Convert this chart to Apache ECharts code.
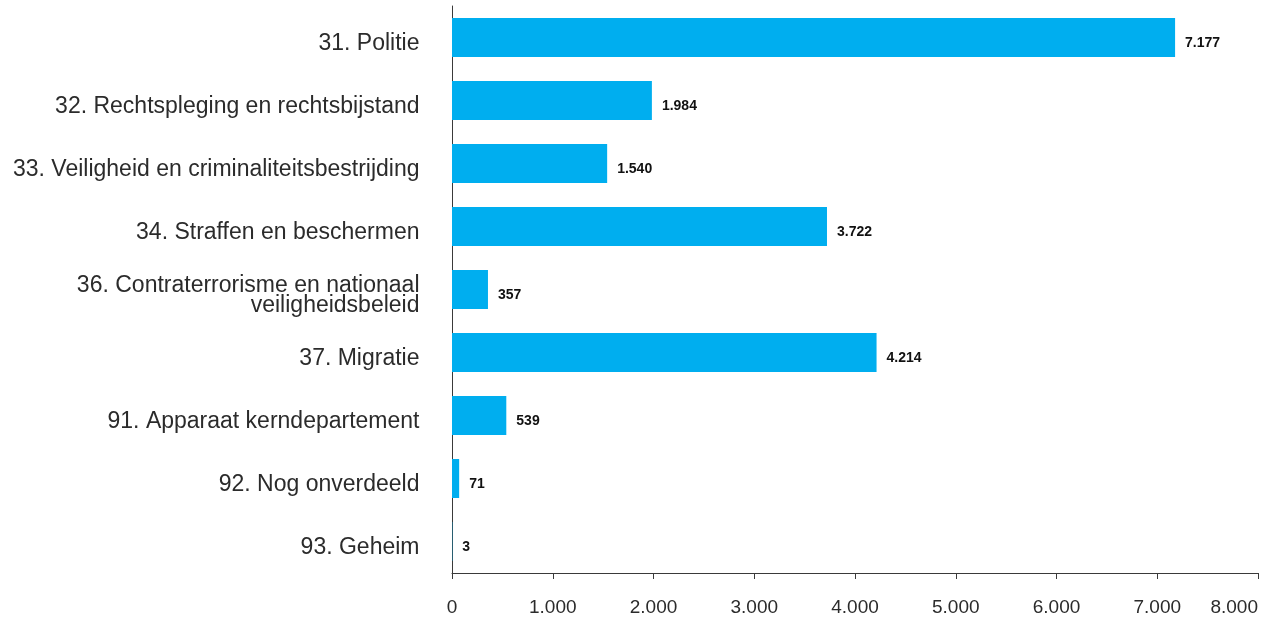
<!DOCTYPE html>
<html>
<head>
<meta charset="utf-8">
<script src="https://cdn.jsdelivr.net/npm/echarts@6/dist/echarts.min.js"></script>
<style>
  html, body { margin: 0; padding: 0; background: #ffffff; }
  #chart { width: 1277px; height: 619px; }
</style>
</head>
<body>
<div id="chart"></div>
<script>
// begrotingsartikelen (van boven naar beneden)
const categories = [
  "31. Politie",
  "32. Rechtspleging en rechtsbijstand",
  "33. Veiligheid en criminaliteitsbestrijding",
  "34. Straffen en beschermen",
  "36. Contraterrorisme en nationaal\nveiligheidsbeleid",
  "37. Migratie",
  "91. Apparaat kerndepartement",
  "92. Nog onverdeeld",
  "93. Geheim"
];
const values = [7177, 1984, 1540, 3722, 357, 4214, 539, 71, 3];
const xTicks = { min: 0, max: 8000, interval: 1000 };

// duizendtallen met een punt
function nl(v) {
  return String(v).replace(/\B(?=(\d{3})+(?!\d))/g, ".");
}

const chart = echarts.init(document.getElementById("chart"));
chart.setOption({
  animation: false,
  textStyle: { fontFamily: "Liberation Sans, Arial, sans-serif" },
  grid: { left: 452, right: 19, top: 6, bottom: 46, outerBoundsMode: "none" },
  xAxis: {
    type: "value",
    min: xTicks.min,
    max: xTicks.max,
    interval: xTicks.interval,
    splitLine: { show: false },
    axisLine: { show: true, lineStyle: { color: "#3a3a3a", width: 1 } },
    axisTick: { show: true, length: 6, lineStyle: { color: "#3a3a3a" } },
    axisLabel: {
      margin: 25,
      fontSize: 19,
      color: "#2b2b2b",
      alignMaxLabel: "right",
      formatter: v => nl(v)
    }
  },
  yAxis: {
    type: "category",
    inverse: true,
    data: categories,
    axisLine: { show: true, lineStyle: { color: "#3a3a3a", width: 1 } },
    axisTick: { show: false },
    // namen staan iets onder het midden van de balk, dus via de hulpreeks hieronder
    axisLabel: { show: false }
  },
  series: [
    {
      type: "bar",
      data: values,
      barWidth: 39,
      itemStyle: { color: "#00aeef" },
      label: {
        show: true,
        position: "right",
        distance: 10,
        offset: [0, 6],
        fontSize: 14,
        fontWeight: "bold",
        color: "#111111",
        formatter: p => nl(p.value)
      }
    },
    {
      // categorienamen links van de as
      type: "scatter",
      data: categories.map(() => 0),
      symbolSize: 1,
      itemStyle: { color: "transparent", opacity: 1 },
      silent: true,
      label: {
        show: true,
        position: "left",
        distance: 32,
        offset: [0, 6],
        fontSize: 23,
        lineHeight: 20,
        align: "right",
        opacity: 1,
        color: "#2b2b2b",
        formatter: p => categories[p.dataIndex]
      }
    }
  ]
});
</script>
</body>
</html>
